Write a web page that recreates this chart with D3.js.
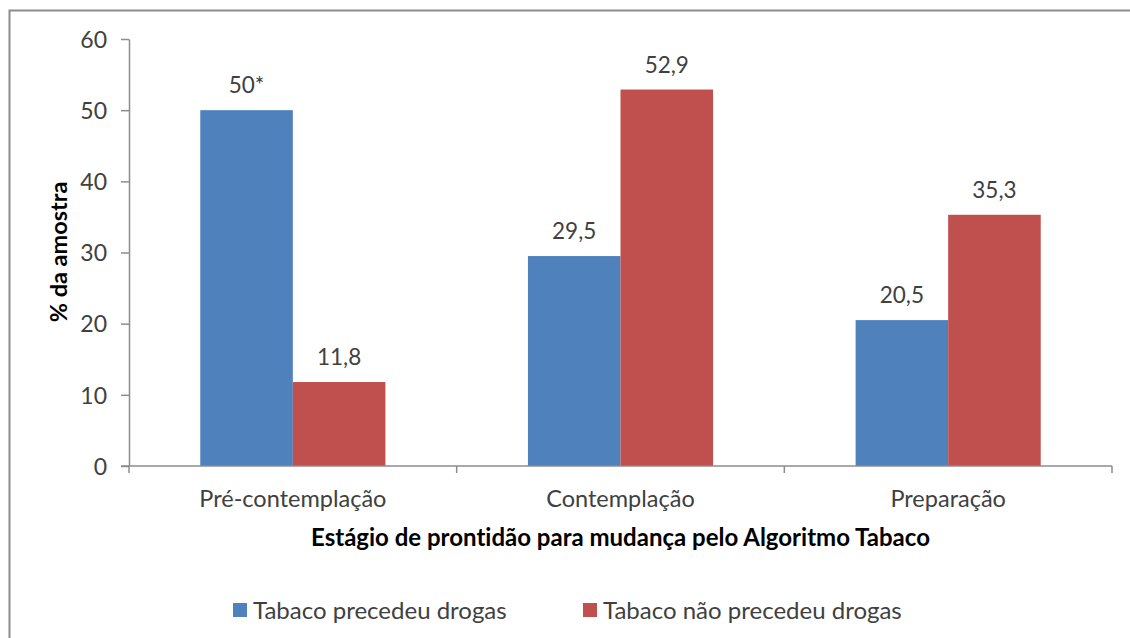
<!DOCTYPE html>
<html>
<head>
<meta charset="utf-8">
<script src="https://cdn.jsdelivr.net/npm/d3@7"></script>
<style>
  html, body { margin: 0; padding: 0; background: #fff; }
  svg { display: block; font-family: Lato, "Open Sans", sans-serif; }
  svg text { font-variant-ligatures: none; font-feature-settings: "liga" 0, "dlig" 0; }
</style>
</head>
<body>
<svg id="chart" width="1130" height="638"></svg>
<script>
// Stage categories and the two series (% of sample)
const categories = ["Pré-contemplação", "Contemplação", "Preparação"];
const seriesNames = ["Tabaco precedeu drogas", "Tabaco não precedeu drogas"];
const precedeu = [50, 29.5, 20.5];
const naoPrecedeu = [11.8, 52.9, 35.3];
const valueLabels = [["50*", "29,5", "20,5"], ["11,8", "52,9", "35,3"]];
const yTicks = [0, 10, 20, 30, 40, 50, 60];
const colors = ["#4F81BD", "#C0504D"];

const svg = d3.select("#chart");
const W = 1130, H = 638;
const plot = { left: 129, right: 1112, top: 39, bottom: 466 };
const textColor = "#404040";
const axisColor = "#8c8c8c";

// outer frame (clipped at the right and bottom)
svg.append("rect")
  .attr("x", 9.5).attr("y", 10.5)
  .attr("width", W + 20).attr("height", H + 20)
  .attr("fill", "#fff").attr("stroke", axisColor).attr("stroke-width", 2);

const x0 = d3.scaleBand().domain(categories).range([plot.left, plot.right]).padding(0);
const x1 = d3.scaleBand().domain(seriesNames).range([0, x0.bandwidth()])
  .paddingInner(0).paddingOuter(0.77);
const y = d3.scaleLinear().domain([0, 60]).range([plot.bottom, plot.top]);

const series = [precedeu, naoPrecedeu];
const cells = (c, i) => seriesNames.map((s, k) => ({ s, k, v: series[k][i], label: valueLabels[k][i] }));

// bars
const groups = svg.append("g").selectAll("g")
  .data(categories)
  .join("g")
  .attr("transform", d => `translate(${x0(d)},0)`);

groups.selectAll("rect")
  .data(cells)
  .join("rect")
  .attr("x", d => x1(d.s))
  .attr("width", x1.bandwidth())
  .attr("y", d => y(d.v))
  .attr("height", d => y(0) - y(d.v))
  .attr("fill", d => colors[d.k]);

// value labels
groups.selectAll("text")
  .data(cells)
  .join("text")
  .attr("x", d => x1(d.s) + x1.bandwidth() / 2)
  .attr("y", d => y(d.v) - 17)
  .attr("text-anchor", "middle")
  .attr("fill", textColor)
  .attr("font-size", 22.5)
  .text(d => d.label);

// y axis
const yAxis = svg.append("g")
  .attr("transform", `translate(${plot.left},0)`)
  .call(d3.axisLeft(y).tickValues(yTicks).tickSize(8).tickPadding(14).tickSizeOuter(0));
yAxis.select(".domain").attr("stroke", axisColor).attr("stroke-width", 1.5);
yAxis.selectAll(".tick line").attr("stroke", axisColor).attr("stroke-width", 1.5);
yAxis.selectAll(".tick text")
  .attr("fill", textColor).attr("font-size", 23).attr("font-family", "Lato, sans-serif")
  .attr("dy", "0.36em");

// x axis: baseline with tick marks at category boundaries
const xAxisG = svg.append("g").attr("transform", `translate(0,${plot.bottom})`);
xAxisG.append("line")
  .attr("x1", plot.left - 8).attr("x2", plot.right)
  .attr("stroke", axisColor).attr("stroke-width", 1.5);
const boundaries = categories.map(c => x0(c)).concat([x0(categories[categories.length - 1]) + x0.bandwidth()]);
xAxisG.selectAll("line.b")
  .data(boundaries)
  .join("line")
  .attr("class", "b")
  .attr("x1", d => d).attr("x2", d => d)
  .attr("y1", 0).attr("y2", 7)
  .attr("stroke", axisColor).attr("stroke-width", 1.5);
xAxisG.selectAll("text")
  .data(categories)
  .join("text")
  .attr("x", d => x0(d) + x0.bandwidth() / 2)
  .attr("y", 41)
  .attr("text-anchor", "middle")
  .attr("fill", textColor)
  .attr("font-size", 23.5)
  .text(d => d);

// axis titles
svg.append("text")
  .attr("x", (plot.left + plot.right) / 2)
  .attr("y", 546)
  .attr("text-anchor", "middle")
  .attr("font-weight", "bold")
  .attr("font-size", 24)
  .attr("fill", "#000")
  .text("Estágio de prontidão para mudança pelo Algoritmo Tabaco");

svg.append("text")
  .attr("transform", `translate(67,252) rotate(-90)`)
  .attr("text-anchor", "middle")
  .attr("font-weight", "bold")
  .attr("font-size", 23.5)
  .attr("fill", "#000")
  .text("% da amostra");

// legend
const legendX = [233, 583];
const legend = svg.append("g").selectAll("g")
  .data(seriesNames)
  .join("g")
  .attr("transform", (d, i) => `translate(${legendX[i]},610)`);
legend.append("rect")
  .attr("x", 0).attr("y", -7).attr("width", 14).attr("height", 14)
  .attr("fill", (d, i) => colors[i]);
legend.append("text")
  .attr("x", 20).attr("y", 0).attr("dy", "0.36em")
  .attr("fill", textColor)
  .attr("font-size", 24)
  .text(d => d);
</script>
</body>
</html>
